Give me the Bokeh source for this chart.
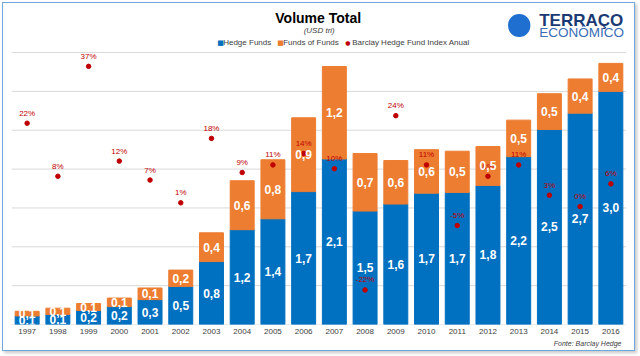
from bokeh.plotting import figure
from bokeh.models import ColumnDataSource, Range1d, FactorRange, Label, Title
from bokeh.core.properties import value
from bokeh.embed import file_html
from bokeh.resources import INLINE

years = [str(y) for y in range(1997, 2017)]
hedge_funds = [0.11, 0.13, 0.18, 0.23, 0.32, 0.49, 0.81, 1.22, 1.36, 1.71,
               2.13, 1.46, 1.55, 1.69, 1.70, 1.79, 2.16, 2.51, 2.72, 3.00]
funds_of_funds = [0.06, 0.08, 0.09, 0.11, 0.15, 0.21, 0.37, 0.63, 0.76, 0.95,
                  1.19, 0.74, 0.56, 0.56, 0.53, 0.50, 0.47, 0.46, 0.44, 0.36]
index_pct = [22, 8, 37, 12, 7, 1, 18, 9, 11, 14,
             10, -22, 24, 11, -5, 8, 11, 3, 0, 6]
grid_ticks = [0, 0.5, 1, 1.5, 2, 2.5, 3, 3.5]

BLUE = "#0070C0"
ORANGE = "#ED7D31"
RED = "#C00000"
FONT = "Liberation Sans"

fmt = lambda v: f"{v:.1f}".replace(".", ",")
totals = [h + f for h, f in zip(hedge_funds, funds_of_funds)]
src = ColumnDataSource(dict(
    x=years, hf=hedge_funds, fof=funds_of_funds, tot=totals,
    hf_mid=[h / 2 for h in hedge_funds],
    fof_mid=[h + f / 2 for h, f in zip(hedge_funds, funds_of_funds)],
    hf_lab=[fmt(v) for v in hedge_funds],
    fof_lab=[fmt(v) for v in funds_of_funds],
    pct=index_pct, pct_lab=[f"{v}%" for v in index_pct],
))

N = len(years)
p = figure(frame_width=631, frame_height=321,
           x_range=FactorRange(*years, range_padding=0.27, range_padding_units="absolute"),
           y_range=Range1d(0, 4.131), output_backend="svg", toolbar_location=None,
           min_border_left=0, min_border_right=0, min_border_top=0, min_border_bottom=26,
           margin=(2, 0, 0, 2))
p.styles = {"border": "1px solid #6fa8dc", "box-shadow": "2px 2px 3px #c8c8c8"}
p.extra_y_ranges = {"pct": Range1d(-31.11, 53.59)}
p.outline_line_color = None
p.background_fill_color = "white"
p.border_fill_color = "white"

p.yaxis.visible = False
p.ygrid.grid_line_color = None
p.xgrid.grid_line_color = None
p.xaxis.axis_line_color = None
p.xaxis.major_tick_line_color = None
p.xaxis.minor_tick_line_color = None
p.xaxis.major_tick_out = 0
p.xaxis.major_tick_in = 0
p.xaxis.major_label_text_font = FONT
p.xaxis.major_label_text_font_size = "8px"
p.xaxis.major_label_text_color = "#404040"
p.xaxis.major_label_standoff = 4

p.add_layout(Title(text="Fonte: Barclay Hedge", align="right", text_font=FONT,
                   text_font_size="7px", text_font_style="italic",
                   text_color="#404040", offset=13, standoff=2), "below")

# horizontal gridlines spanning the category extent
p.segment(x0=[0] * len(grid_ticks), x1=[N] * len(grid_ticks), y0=grid_ticks,
          y1=grid_ticks, line_color="#D9D9D9", line_width=1)

p.vbar(x="x", top="hf", bottom=0, width=0.78, source=src, color=BLUE)
p.vbar(x="x", top="tot", bottom="hf", width=0.78, source=src, color=ORANGE)

p.scatter(x="x", y="pct", source=src, y_range_name="pct", size=4.5,
          color=RED, line_color=RED)
p.text(x="x", y="pct", text="pct_lab", source=src, y_range_name="pct",
       y_offset=-10, text_color=RED, text_font=value(FONT), text_font_size="8px",
       text_align="center", text_baseline="middle")

p.text(x="x", y="hf_mid", text="hf_lab", source=src, text_color="white",
       text_font=value(FONT), text_font_size="12px", text_font_style="bold",
       text_align="center", text_baseline="middle")
p.text(x="x", y="fof_mid", text="fof_lab", source=src, text_color="white",
       text_font=value(FONT), text_font_size="12px", text_font_style="bold",
       text_align="center", text_baseline="middle")

# annotations: page pixel positions converted to data units
def dx(px):
    return (px - 11.6) / 30.72

def dy(py):
    return (324 - py) / 77.71

def lab(px, py, text, **kw):
    kw.setdefault("text_font", FONT)
    kw.setdefault("text_baseline", "middle")
    p.add_layout(Label(x=dx(px), y=dy(py), text=text, **kw))

lab(318, 17, "Volume Total", text_font_size="14px", text_font_style="bold",
    text_color="black", text_align="center")
lab(319, 30, "(USD tri)", text_font_size="8px", text_font_style="italic",
    text_color="#404040", text_align="center")
lab(217, 42, "■", text_font_size="7px", text_color=BLUE, text_font="DejaVu Sans")
lab(223, 42, "Hedge Funds", text_font_size="8px", text_color="#404040")
lab(277, 42, "■", text_font_size="7px", text_color=ORANGE, text_font="DejaVu Sans")
lab(283, 42, "Funds of Funds", text_font_size="8px", text_color="#404040")
lab(345, 42, "●", text_font_size="6px", text_color=RED, text_font="DejaVu Sans")
lab(352, 42, "Barclay Hedge Fund Index Anual", text_font_size="8px", text_color="#404040")

# logo
p.add_layout(Label(x=dx(519), y=dy(25), text=" ", text_font_size="1px", padding=11,
                   border_radius=11, background_fill_color="#1F6FD0",
                   text_align="center", text_baseline="middle"))
lab(539, 20, "TERRAÇO", text_font_size="17px", text_font_style="bold",
    text_color="#1B3A73")
lab(539, 32, "ECONÔMICO", text_font_size="13.5px", text_color="#3A6DB5")

open("out.html", "w").write(file_html(p, INLINE))
